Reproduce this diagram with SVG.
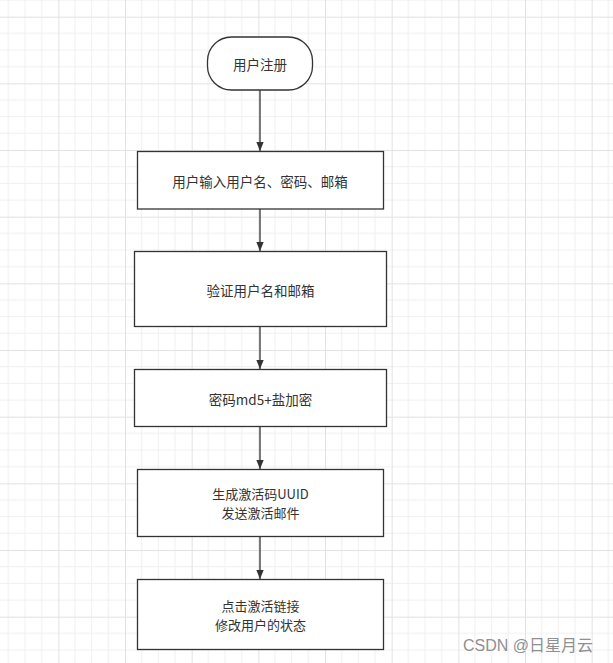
<svg xmlns="http://www.w3.org/2000/svg" width="613" height="663" viewBox="0 0 613 663">
<style>
.box{fill:#ffffff;stroke:#333333;stroke-width:1.3}
.lbl{font-family:"Noto Sans CJK SC","Liberation Sans",sans-serif;font-size:13.5px;fill:#333333;text-anchor:middle;dominant-baseline:central}
.ml{font-family:"Noto Sans CJK SC","Liberation Sans",sans-serif;font-size:13px;fill:#333333;text-anchor:middle;dominant-baseline:central}
.conn{stroke:#333333;stroke-width:1.3;fill:none}
.wm{font-family:"Liberation Sans","Noto Sans CJK SC",sans-serif;font-size:16px;fill:#909090}
</style>
<defs>
<pattern id="grid" patternUnits="userSpaceOnUse" x="-8.333" y="16.667" width="66.667" height="66.667">
<path d="M16.667 0V66.667M33.333 0V66.667M50 0V66.667M0 16.667H66.667M0 33.333H66.667M0 50H66.667" stroke="#f0f0f0" stroke-width="1" fill="none"/>
<path d="M0.5 0V66.667M0 0.5H66.667" stroke="#e2e2e2" stroke-width="1" fill="none"/>
</pattern>
<marker id="arr" markerUnits="userSpaceOnUse" markerWidth="9" markerHeight="12" refX="11" refY="4.5" orient="auto" viewBox="0 0 11 9">
<path d="M0 0L11 4.5L0 9Z" fill="#333333"/>
</marker>
</defs>
<rect width="613" height="663" fill="#ffffff"/>
<rect width="613" height="663" fill="url(#grid)"/>
<g id="connectors">
<line class="conn" x1="260" y1="90" x2="260" y2="151" marker-end="url(#arr)"/>
<line class="conn" x1="260" y1="209" x2="260" y2="251" marker-end="url(#arr)"/>
<line class="conn" x1="260" y1="327" x2="260" y2="369" marker-end="url(#arr)"/>
<line class="conn" x1="260" y1="427" x2="260" y2="469" marker-end="url(#arr)"/>
<line class="conn" x1="260" y1="537" x2="260" y2="579" marker-end="url(#arr)"/>
</g>
<g id="n-start">
<rect class="box" x="207.5" y="37" width="105" height="53" rx="24" ry="24"/>
<text class="lbl" x="260" y="63.5">用户注册</text>
</g>
<g id="n-input">
<rect class="box" x="137.5" y="151.5" width="246" height="57.5"/>
<text class="lbl" x="260" y="181">用户输入用户名、密码、邮箱</text>
</g>
<g id="n-verify">
<rect class="box" x="134.5" y="251.5" width="252" height="75"/>
<text class="lbl" x="260.5" y="290">验证用户名和邮箱</text>
</g>
<g id="n-md5">
<rect class="box" x="134.5" y="369.5" width="252" height="57"/>
<text class="lbl" x="260.5" y="399">密码md5+盐加密</text>
</g>
<g id="n-uuid">
<rect class="box" x="137.5" y="469.5" width="246" height="67"/>
<text class="ml" x="260.5" y="493.4"><tspan x="260.5" y="493.4">生成激活码UUID</tspan><tspan x="260.5" y="512.4">发送激活邮件</tspan></text>
</g>
<g id="n-activate">
<rect class="box" x="137.5" y="579.5" width="246" height="70"/>
<text class="ml" x="260.5" y="605"><tspan x="260.5" y="605">点击激活链接</tspan><tspan x="260.5" y="624">修改用户的状态</tspan></text>
</g>
<text class="wm" x="463" y="651">CSDN @日星月云</text>
</svg>
